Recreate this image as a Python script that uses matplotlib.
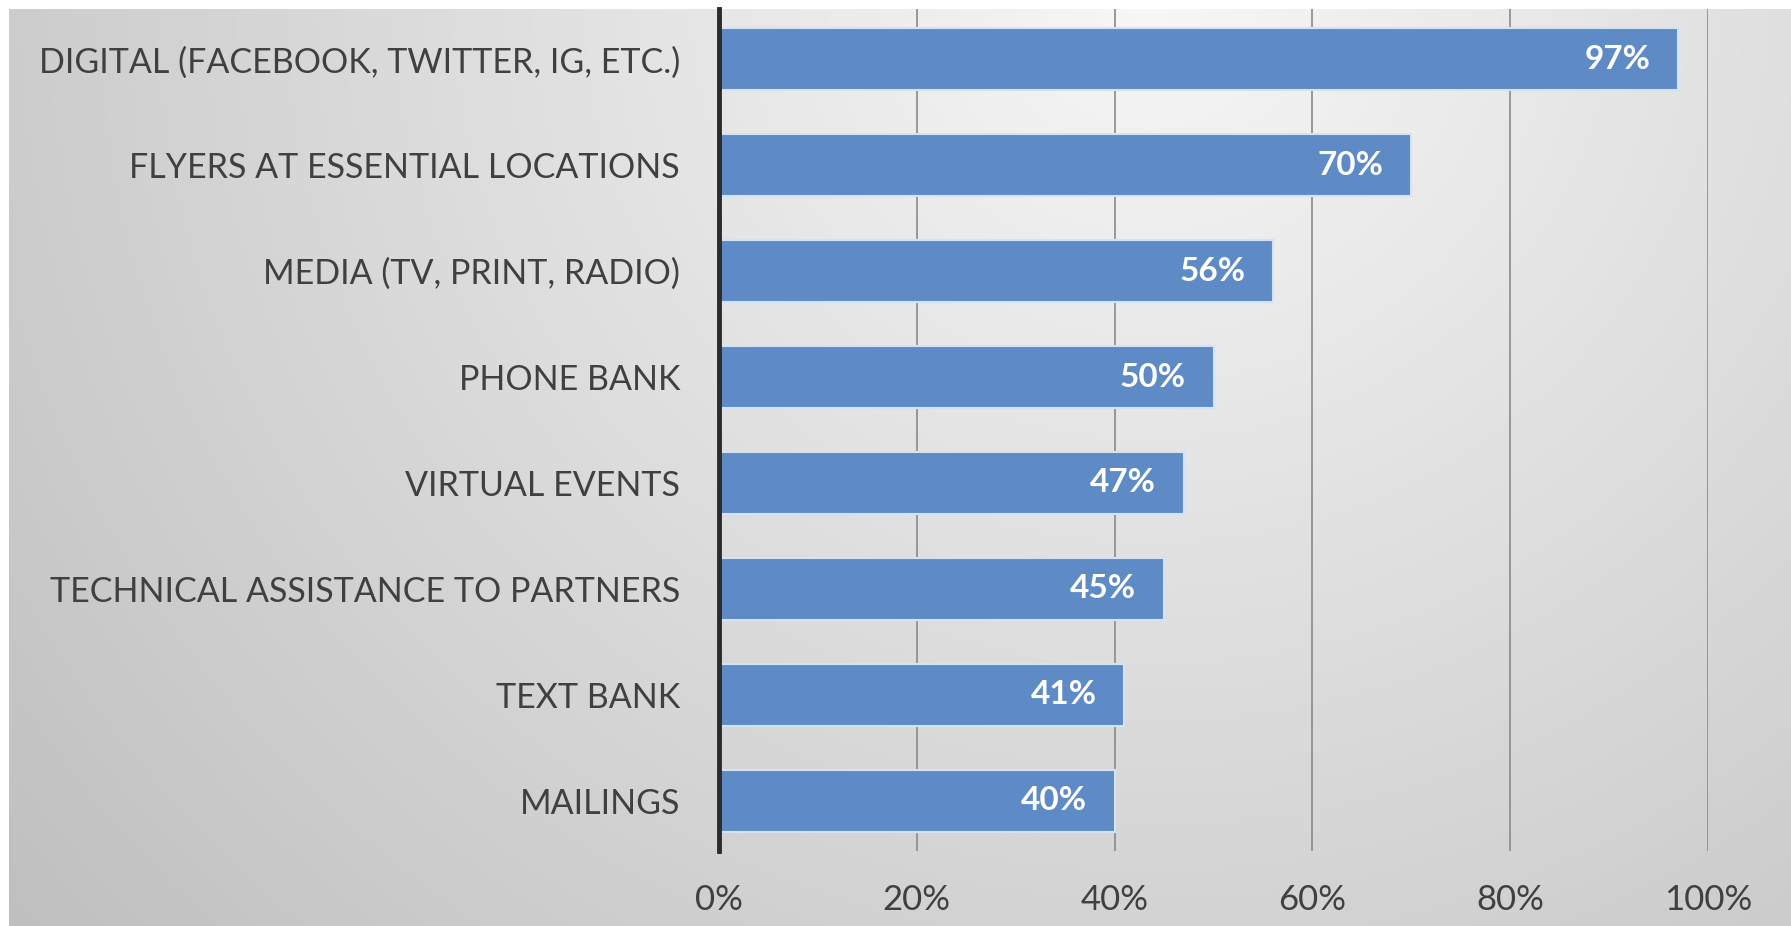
import numpy as np
import matplotlib
matplotlib.use("Agg")
import matplotlib.pyplot as plt
from matplotlib.ticker import FuncFormatter

categories = [
    "DIGITAL (FACEBOOK, TWITTER, IG, ETC.)",
    "FLYERS AT ESSENTIAL LOCATIONS",
    "MEDIA (TV, PRINT, RADIO)",
    "PHONE BANK",
    "VIRTUAL EVENTS",
    "TECHNICAL ASSISTANCE TO PARTNERS",
    "TEXT BANK",
    "MAILINGS",
]
values = [97, 70, 56, 50, 47, 45, 41, 40]
x_ticks = [0, 20, 40, 60, 80, 100]

W, H = 1791, 926
fig = plt.figure(figsize=(W / 100, H / 100), dpi=100)

# soft radial grey background, brightest near the top centre
bg = fig.add_axes([0, 0, 1, 1], zorder=0)
yy, xx = np.mgrid[0:H, 0:W]
d = np.hypot(xx - 1150, (yy - 0) * 1.05)
shade = np.clip(247 - 55 * d / 1480, 185, 250) / 255.0
bg.imshow(np.dstack([shade] * 3), extent=[0, W, H, 0], aspect="auto")
bg.add_patch(plt.Rectangle((0, 0), 9, H, color="white", lw=0))
bg.add_patch(plt.Rectangle((0, 0), W, 9, color="white", lw=0))
bg.set_xlim(0, W)
bg.set_ylim(H, 0)
bg.axis("off")

ax = fig.add_axes([719 / W, (H - 851) / H, 989 / W, 842 / H], zorder=1)
ax.patch.set_alpha(0)

font = ["Lato", "DejaVu Sans"]
y = np.arange(len(categories))
ax.barh(y, values, height=0.585, color="#5e8bc6", edgecolor="#d2e3f6",
        linewidth=1.5, zorder=3)

for yi, v in zip(y, values):
    ax.text(v - 2.8, yi, f"{v}%", ha="right", va="center", color="white",
            fontsize=24, fontweight="bold", family=font, zorder=4)

ax.set_xlim(0, 100)
ax.set_ylim(len(categories) - 0.525, -0.475)
ax.set_xticks(x_ticks)
ax.xaxis.set_major_formatter(FuncFormatter(lambda v, _: f"{v:.0f}%"))
ax.set_yticks(y)
ax.set_yticklabels(categories)
ax.tick_params(axis="both", length=0, colors="#404040")
ax.tick_params(axis="y", pad=28, labelsize=24.5)
ax.tick_params(axis="x", pad=24, labelsize=25)
for lab in ax.get_xticklabels() + ax.get_yticklabels():
    lab.set_family(font)

ax.grid(axis="x", color="#8a8a8a", linewidth=1.2, zorder=1)
ax.grid(axis="y", visible=False)
for side in ["top", "right", "bottom"]:
    ax.spines[side].set_visible(False)
ax.spines["left"].set_color("#2b2b2b")
ax.spines["left"].set_linewidth(3.5)
ax.spines["left"].set_zorder(5)

fig.savefig("out.png", dpi=100)
